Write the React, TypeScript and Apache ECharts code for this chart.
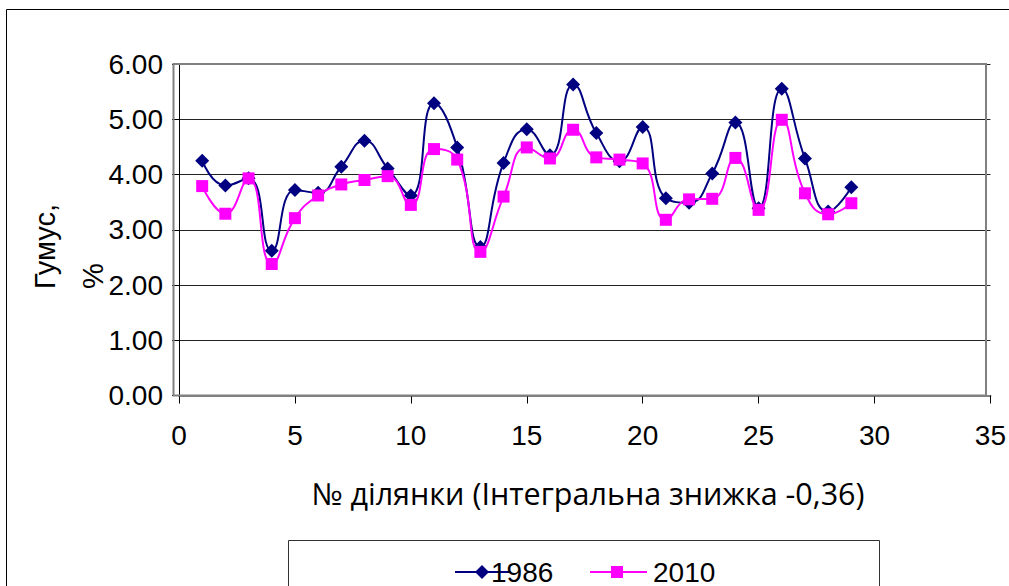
import React, { useEffect, useRef } from "react";
import * as echarts from "echarts";

// Ділянки (номер) та вміст гумусу, %
const sites = [1, 2, 3, 4, 5, 6, 7, 8, 9, 10, 11, 12, 13, 14, 15, 16, 17, 18, 19, 20, 21, 22, 23, 24, 25, 26, 27, 28, 29];
const humus1986 = [4.25, 3.8, 3.93, 2.62, 3.72, 3.67, 4.14, 4.61, 4.11, 3.62, 5.29, 4.49, 2.69, 4.21, 4.82, 4.35, 5.63, 4.75, 4.24, 4.86, 3.57, 3.49, 4.02, 4.94, 3.39, 5.55, 4.29, 3.33, 3.77];
const humus2010 = [3.79, 3.29, 3.93, 2.38, 3.21, 3.62, 3.82, 3.9, 3.97, 3.45, 4.46, 4.27, 2.6, 3.6, 4.49, 4.29, 4.81, 4.31, 4.27, 4.2, 3.18, 3.55, 3.56, 4.3, 3.36, 4.99, 3.66, 3.28, 3.48];
const seriesNames = ["1986", "2010"];
const xAxisTitle = "№ ділянки (Інтегральна знижка -0,36)";
const yAxisTitle = ["Гумус,", "%"];

const ARIAL = "'Liberation Sans', Arial, sans-serif";
const SANS = "'Open Sans', 'Noto Sans', sans-serif";
const NAVY = "#000080";
const MAGENTA = "#FF00FF";

export default function App() {
  const ref = useRef<HTMLDivElement>(null);

  useEffect(() => {
    if (!ref.current) return;
    const chart = echarts.init(ref.current, undefined, { renderer: "svg" });

    const pairs = (vals: number[]) => sites.map((s, i) => [s, vals[i]]);

    chart.setOption({
      animation: false,
      backgroundColor: "#ffffff",
      grid: { left: 179, right: 17, top: 64, bottom: 190.5, containLabel: false },
      xAxis: {
        type: "value",
        min: 0,
        max: 35,
        interval: 5,
        axisLine: { show: true, lineStyle: { color: "#808080", width: 2 } },
        axisTick: { show: true, length: 8, lineStyle: { color: "#000", width: 1 } },
        axisLabel: { fontFamily: ARIAL, fontSize: 28, color: "#000", margin: 26 },
        splitLine: { show: false },
      },
      yAxis: {
        type: "value",
        min: 0,
        max: 6,
        interval: 1,
        axisLine: { show: true, lineStyle: { color: "#000", width: 1 } },
        axisTick: { show: true, inside: false, length: 7, lineStyle: { color: "#000", width: 1 } },
        axisLabel: {
          fontFamily: ARIAL,
          fontSize: 28,
          color: "#000",
          margin: 16,
          formatter: (v: number) => v.toFixed(2),
        },
        splitLine: { show: true, lineStyle: { color: "#222", width: 1 } },
      },
      series: [
        {
          name: seriesNames[0],
          type: "line",
          data: pairs(humus1986),
          smooth: 0.5,
          symbol: "diamond",
          symbolSize: 14,
          lineStyle: { color: NAVY, width: 2 },
          itemStyle: { color: NAVY },
          z: 3,
        },
        {
          name: seriesNames[1],
          type: "line",
          data: pairs(humus2010),
          smooth: 0.5,
          symbol: "rect",
          symbolSize: 12,
          lineStyle: { color: MAGENTA, width: 2 },
          itemStyle: { color: MAGENTA },
          z: 4,
        },
      ],
      graphic: [
        // рамка області діаграми
        {
          type: "rect",
          shape: { x: 6.5, y: 9.5, width: 1100, height: 700 },
          style: { fill: "none", stroke: "#000", lineWidth: 1 },
          silent: true,
          z: 0,
        },
        // рамка області побудови
        {
          type: "rect",
          shape: { x: 173.5, y: 64, width: 812.5, height: 331.5 },
          style: { fill: "none", stroke: "#808080", lineWidth: 2 },
          silent: true,
          z: 1,
        },
        // підпис осі Y (два рядки, повернуті)
        {
          type: "text",
          x: 45,
          y: 289,
          rotation: Math.PI / 2,
          style: {
            text: yAxisTitle[0],
            font: `29px ${ARIAL}`,
            fill: "#000",
            textAlign: "left",
            textVerticalAlign: "middle",
          },
        },
        {
          type: "text",
          x: 93,
          y: 289,
          rotation: Math.PI / 2,
          style: {
            text: yAxisTitle[1],
            font: `29px ${ARIAL}`,
            fill: "#000",
            textAlign: "left",
            textVerticalAlign: "middle",
          },
        },
        // підпис осі X
        {
          type: "text",
          x: 588,
          y: 493,
          style: {
            text: xAxisTitle,
            font: `30.5px ${SANS}`,
            fill: "#000",
            textAlign: "center",
            textVerticalAlign: "middle",
          },
        },
        // легенда
        {
          type: "rect",
          shape: { x: 288.5, y: 540.5, width: 591, height: 100 },
          style: { fill: "#fff", stroke: "#333", lineWidth: 1 },
          silent: true,
        },
        {
          type: "line",
          shape: { x1: 455, y1: 572, x2: 511, y2: 572 },
          style: { stroke: NAVY, lineWidth: 2 },
        },
        {
          type: "polygon",
          shape: { points: [[482, 565], [489, 572], [482, 579], [475, 572]] },
          style: { fill: NAVY },
        },
        {
          type: "text",
          x: 491,
          y: 572,
          style: {
            text: seriesNames[0],
            font: `28px ${ARIAL}`,
            fill: "#000",
            textAlign: "left",
            textVerticalAlign: "middle",
          },
        },
        {
          type: "line",
          shape: { x1: 590, y1: 572, x2: 647, y2: 572 },
          style: { stroke: MAGENTA, lineWidth: 2 },
        },
        {
          type: "rect",
          shape: { x: 611, y: 566, width: 12, height: 12 },
          style: { fill: MAGENTA },
        },
        {
          type: "text",
          x: 653,
          y: 572,
          style: {
            text: seriesNames[1],
            font: `28px ${ARIAL}`,
            fill: "#000",
            textAlign: "left",
            textVerticalAlign: "middle",
          },
        },
      ],
    });

    return () => chart.dispose();
  }, []);

  return (
    <div
      ref={ref}
      style={{ position: "fixed", left: 0, top: 0, width: 1009, height: 586, background: "#fff" }}
    />
  );
}
